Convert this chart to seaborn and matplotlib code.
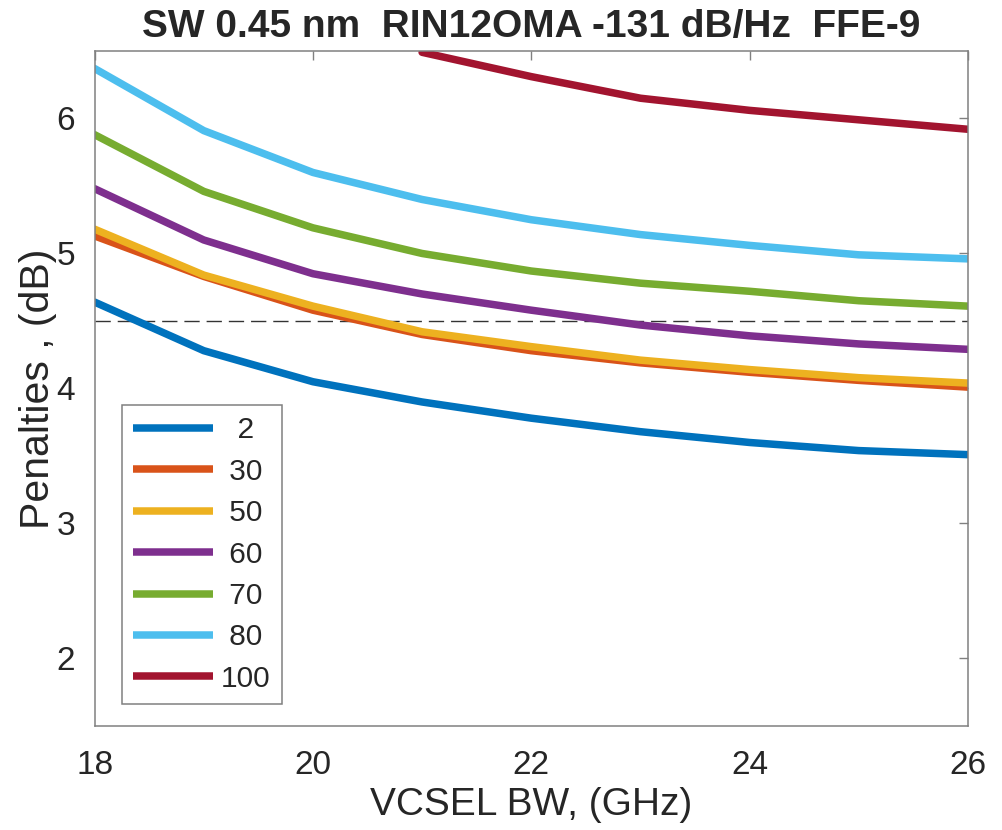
import numpy as np
import pandas as pd
import matplotlib
matplotlib.use("Agg")
import matplotlib.pyplot as plt
import seaborn as sns

# ---- data ----
bw = [18, 19, 20, 21, 22, 23, 24, 25, 26]
bw_100 = [21, 22, 23, 24, 25, 26]
pen_2 = [4.64, 4.28, 4.05, 3.90, 3.78, 3.68, 3.60, 3.54, 3.51]
pen_30 = [5.13, 4.83, 4.58, 4.40, 4.28, 4.19, 4.12, 4.06, 4.01]
pen_50 = [5.18, 4.84, 4.61, 4.42, 4.31, 4.21, 4.14, 4.08, 4.04]
pen_60 = [5.48, 5.10, 4.85, 4.70, 4.58, 4.47, 4.39, 4.33, 4.29]
pen_70 = [5.88, 5.46, 5.19, 5.00, 4.87, 4.78, 4.72, 4.65, 4.61]
pen_80 = [6.37, 5.91, 5.60, 5.40, 5.25, 5.14, 5.06, 4.99, 4.96]
pen_100 = [6.49, 6.31, 6.15, 6.06, 5.99, 5.92]
series_names = ["2", "30", "50", "60", "70", "80", "100"]
legend_labels = ["  2", " 30", " 50", " 60", " 70", " 80", "100"]
colors = ["#0072BD", "#D95319", "#EDB120", "#7E2F8E", "#77AC30", "#4DBEEE", "#A2142F"]
threshold = 4.5
title = "SW 0.45 nm  RIN12OMA -131 dB/Hz  FFE-9"
xlabel = "VCSEL BW, (GHz)"
ylabel = "Penalties , (dB)"
xticks = [18, 20, 22, 24, 26]
yticks = [2, 3, 4, 5, 6]

rows = []
for name, xs, ys in zip(series_names,
                        [bw, bw, bw, bw, bw, bw, bw_100],
                        [pen_2, pen_30, pen_50, pen_60, pen_70, pen_80, pen_100]):
    for x, y in zip(xs, ys):
        rows.append({"bw": x, "pen": y, "len": name})
df = pd.DataFrame(rows)

sns.set_style("white")
plt.rcParams["font.family"] = ["Liberation Sans", "DejaVu Sans"]

fig = plt.figure(figsize=(10.02, 8.30), dpi=100)
ax = fig.add_axes([0.0944, 0.1253, 0.8716, 0.8133])

sns.lineplot(data=df, x="bw", y="pen", hue="len", hue_order=series_names,
             palette=colors, linewidth=5.4, ax=ax, legend="full", sort=False)

ax.axhline(threshold, color="#333333", linewidth=1.0, dashes=(11, 5), zorder=0.5)

ax.set_xlim(18, 26)
ax.set_ylim(1.5, 6.5)
ax.set_xticks(xticks)
ax.set_yticks(yticks)
ax.tick_params(axis="both", direction="in", length=6.5, width=1, color="#808080",
               labelsize=24, labelcolor="#262626", top=True, right=True)
ax.tick_params(axis="x", pad=17.5)
ax.tick_params(axis="y", pad=14)
for s in ax.spines.values():
    s.set_color("#808080")
    s.set_linewidth(1.1)
    s.set_visible(True)

ax.set_xlabel(xlabel, fontsize=28, color="#262626", labelpad=4)
ax.set_ylabel(ylabel, fontsize=29.5, color="#262626", labelpad=0)
ax.set_title(title, fontsize=28, fontweight="bold",
             family=["Liberation Sans Narrow", "Liberation Sans", "DejaVu Sans"], pad=10)

handles, _ = ax.get_legend_handles_labels()
leg = ax.legend(handles[-7:], legend_labels, loc="upper left",
                bbox_to_anchor=(0.031, 0.4756), borderaxespad=0,
                fontsize=21.5, handlelength=2.68, handletextpad=0.27,
                labelspacing=0.45, borderpad=0.38, fancybox=False,
                frameon=True, edgecolor="#808080", facecolor="white", framealpha=1)
leg.get_frame().set_linewidth(1.1)
for l in leg.get_lines():
    l.set_linewidth(5.4)
    l.set_solid_capstyle("butt")

fig.savefig("out.png", dpi=100)
